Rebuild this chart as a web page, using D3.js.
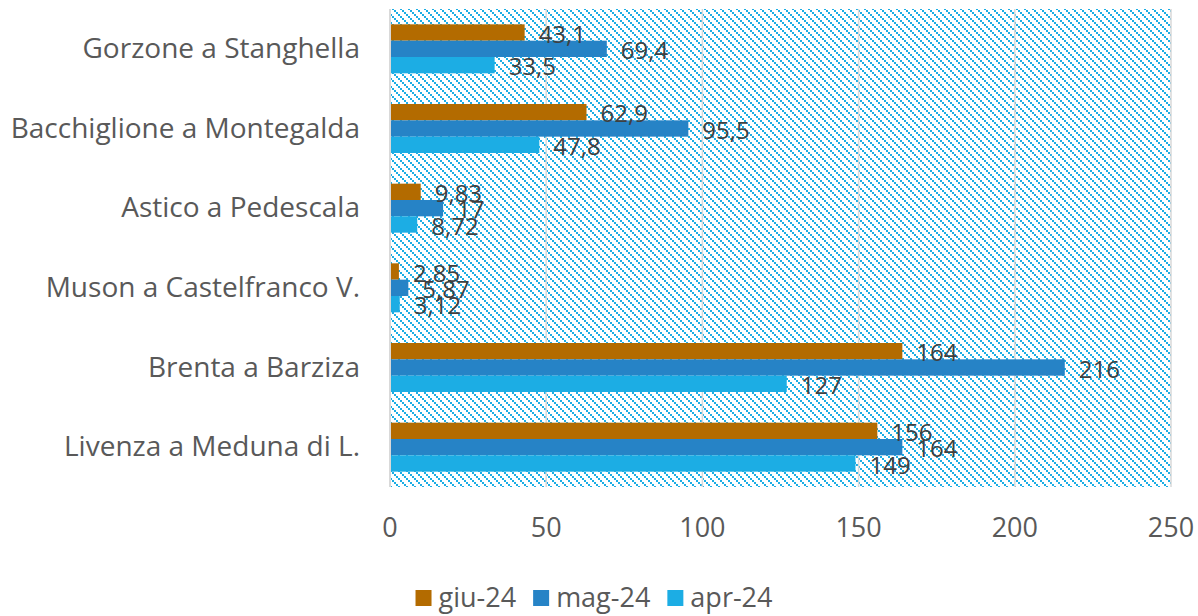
<!DOCTYPE html>
<html>
<head>
<meta charset="utf-8">
<script src="https://cdn.jsdelivr.net/npm/d3@7"></script>
<style>
  body { margin: 0; background: #fff; }
  svg { display: block; }
  text { font-family: "Open Sans", sans-serif; }
</style>
</head>
<body>
<div id="chart"></div>
<script>
// data
let stations = ["Gorzone a Stanghella", "Bacchiglione a Montegalda", "Astico a Pedescala",
                "Muson a Castelfranco V.", "Brenta a Barziza", "Livenza a Meduna di L."];
let seriesNames = ["giu-24", "mag-24", "apr-24"];
let giu24 = [43.1, 62.9, 9.83, 2.85, 164, 156];
let mag24 = [69.4, 95.5, 17, 5.87, 216, 164];
let apr24 = [33.5, 47.8, 8.72, 3.12, 127, 149];
let xTicks = [0, 50, 100, 150, 200, 250];

let colors = {"giu-24": "#b36b00", "mag-24": "#2683c6", "apr-24": "#1cade4"};
let values = {"giu-24": giu24, "mag-24": mag24, "apr-24": apr24};

const width = 1198, height = 616;
const plot = {left: 390, right: 1171, top: 9, bottom: 487};

const svg = d3.select("#chart").append("svg")
    .attr("width", width)
    .attr("height", height);

// hatched plot background (Excel-like downward diagonal)
const pat = svg.append("defs").append("pattern")
    .attr("id", "hatch")
    .attr("patternUnits", "userSpaceOnUse")
    .attr("width", 8).attr("height", 8);
pat.append("rect").attr("width", 8).attr("height", 8).attr("fill", "#fff");
[0, 2, 4, 6].forEach(i => {
    pat.append("rect").attr("x", i).attr("y", i).attr("width", 2).attr("height", 2).attr("fill", "#1cade4");
});

svg.append("rect")
    .attr("x", plot.left)
    .attr("y", plot.top)
    .attr("width", plot.right - plot.left)
    .attr("height", plot.bottom - plot.top)
    .attr("fill", "url(#hatch)");

const x = d3.scaleLinear().domain([0, 250]).range([plot.left, plot.right]);
const y = d3.scaleBand().domain(stations).range([plot.top, plot.bottom])
    .paddingInner(0.385).paddingOuter(0.1925);
const ySub = d3.scaleBand().domain(seriesNames).range([0, y.bandwidth()]);

// gridlines
svg.append("g")
    .selectAll("line")
    .data(xTicks.slice(1))
    .join("line")
    .attr("x1", d => x(d)).attr("x2", d => x(d))
    .attr("y1", plot.top).attr("y2", plot.bottom)
    .attr("stroke", "#d9d9d9")
    .attr("stroke-width", 1.5);

// category axis line
svg.append("line")
    .attr("x1", x(0)).attr("x2", x(0))
    .attr("y1", plot.top).attr("y2", plot.bottom)
    .attr("stroke", "#d9d9d9")
    .attr("stroke-width", 2);

// bars
let rows = [];
stations.forEach((s, i) => {
    seriesNames.forEach(n => rows.push({station: s, series: n, value: values[n][i]}));
});

svg.append("g")
    .selectAll("rect")
    .data(rows)
    .join("rect")
    .attr("x", x(0) + 1)
    .attr("y", d => y(d.station) + ySub(d.series))
    .attr("width", d => x(d.value) - x(0) - 1)
    .attr("height", ySub.bandwidth())
    .attr("fill", d => colors[d.series]);

// value labels
const fmt = v => String(v).replace(".", ",");
svg.append("g")
    .selectAll("text")
    .data(rows)
    .join("text")
    .attr("x", d => x(d.value) + 14)
    .attr("y", d => y(d.station) + ySub(d.series) + ySub.bandwidth() / 2 + 1.5)
    .attr("dy", "0.36em")
    .attr("font-size", 24)
    .attr("fill", "#404040")
    .text(d => fmt(d.value));

// category labels
svg.append("g")
    .selectAll("text")
    .data(stations)
    .join("text")
    .attr("x", 360)
    .attr("y", d => y(d) + y.bandwidth() / 2 - 1)
    .attr("dy", "0.36em")
    .attr("text-anchor", "end")
    .attr("font-size", 28)
    .attr("fill", "#595959")
    .text(d => d);

// x tick labels
svg.append("g")
    .selectAll("text")
    .data(xTicks)
    .join("text")
    .attr("x", d => x(d))
    .attr("y", 527)
    .attr("dy", "0.36em")
    .attr("text-anchor", "middle")
    .attr("font-size", 27)
    .attr("fill", "#595959")
    .text(d => d);

// legend
const legend = svg.append("g");
let items = legend.selectAll("g")
    .data(seriesNames)
    .join("g");
items.append("rect")
    .attr("width", 16).attr("height", 16)
    .attr("y", 590)
    .attr("fill", d => colors[d]);
items.append("text")
    .attr("x", 23)
    .attr("y", 597)
    .attr("dy", "0.36em")
    .attr("font-size", 27)
    .attr("fill", "#595959")
    .text(d => d);

let offsets = [], cur = 0;
items.each(function(d) {
    offsets.push(cur);
    cur += 23 + d3.select(this).select("text").node().getComputedTextLength() + 17;
});
cur -= 17;
const start = 594 - cur / 2;
items.attr("transform", (d, i) => `translate(${start + offsets[i]},0)`);
</script>
</body>
</html>
